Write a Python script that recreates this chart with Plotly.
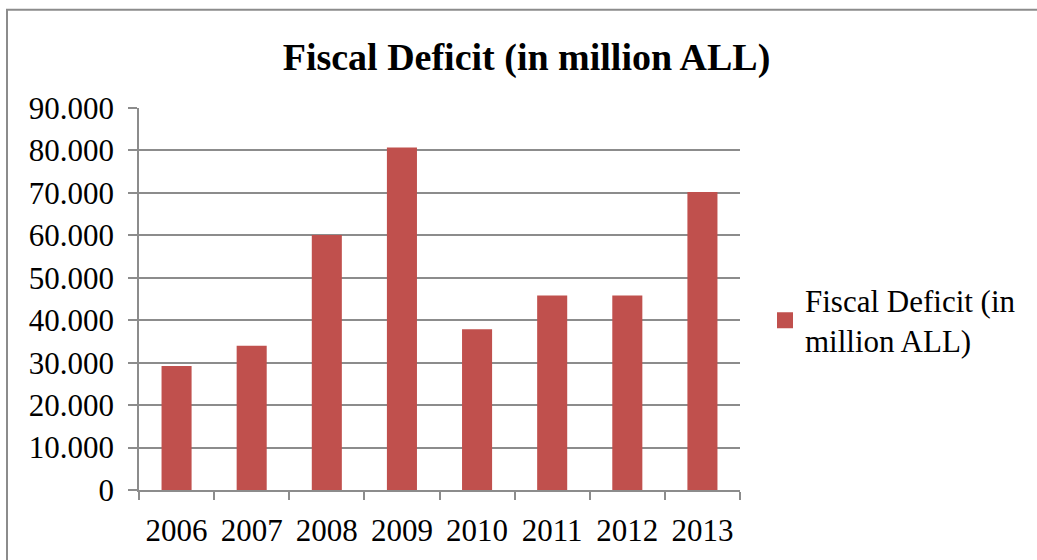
import plotly.graph_objects as go

years = ["2006", "2007", "2008", "2009", "2010", "2011", "2012", "2013"]
deficit = [29200, 34000, 60100, 80700, 37900, 45800, 45800, 70200]
series_name = "Fiscal Deficit (in<br>million ALL)"
title_text = "<b>Fiscal Deficit (in million ALL)</b>"
y_ticks = [0, 10000, 20000, 30000, 40000, 50000, 60000, 70000, 80000, 90000]

W, H = 1037, 560
L, R, T, B = 139, 297, 108, 67
grey = "#8c8c8c"
bar_color = "#C0504D"
font = "Liberation Serif, Times New Roman, serif"

fig = go.Figure()
fig.add_trace(go.Bar(x=years, y=deficit, name=series_name,
                     marker=dict(color=bar_color, line=dict(width=0)),
                     showlegend=False))
# legend entry with a larger square swatch, as in the reference
fig.add_trace(go.Scatter(x=[None], y=[None], mode="markers", name=series_name,
                         marker=dict(symbol="square", size=16, color=bar_color),
                         showlegend=True, hoverinfo="skip"))

pw = W - L - R
ph = H - T - B
def px(x):
    return (x - L) / pw
def py(y):
    return (H - B - y) / ph

fig.update_layout(
    width=W, height=H,
    margin=dict(l=L, r=R, t=T, b=B, pad=0),
    paper_bgcolor="white", plot_bgcolor="white",
    separators=",.",
    bargap=0.6,
    font=dict(family=font, size=31, color="black"),
    title=dict(text=title_text, x=526.5 / W, xanchor="center", xref="container",
               y=1 - 57 / H, yanchor="middle", yref="container",
               font=dict(family=font, size=38, color="black")),
    legend=dict(x=765 / W, xref="container", xanchor="left",
                y=py(322), yanchor="middle",
                font=dict(family=font, size=31, color="black"),
                bgcolor="rgba(0,0,0,0)", borderwidth=0),
    xaxis=dict(type="category", tickson="boundaries", ticks="outside", ticklen=8,
               tickcolor=grey, tickwidth=1.5, showline=True, linecolor=grey, linewidth=1.5,
               showgrid=False, tickfont=dict(family=font, size=31), ticklabelstandoff=12),
    yaxis=dict(range=[0, 90000], tickvals=y_ticks, tickformat=",d", ticks="outside",
               ticklen=9, tickcolor=grey, tickwidth=1.5, showline=True, linecolor=grey,
               linewidth=1.5, showgrid=True, gridcolor=grey, gridwidth=1.5, zeroline=False,
               tickfont=dict(family=font, size=31), ticklabelstandoff=8),
    shapes=[dict(type="rect", xref="paper", yref="paper",
                 x0=px(7), x1=px(1050), y0=py(575), y1=py(9),
                 line=dict(color=grey, width=2), fillcolor="rgba(0,0,0,0)", layer="above")],
)

fig.write_html("out.html")
